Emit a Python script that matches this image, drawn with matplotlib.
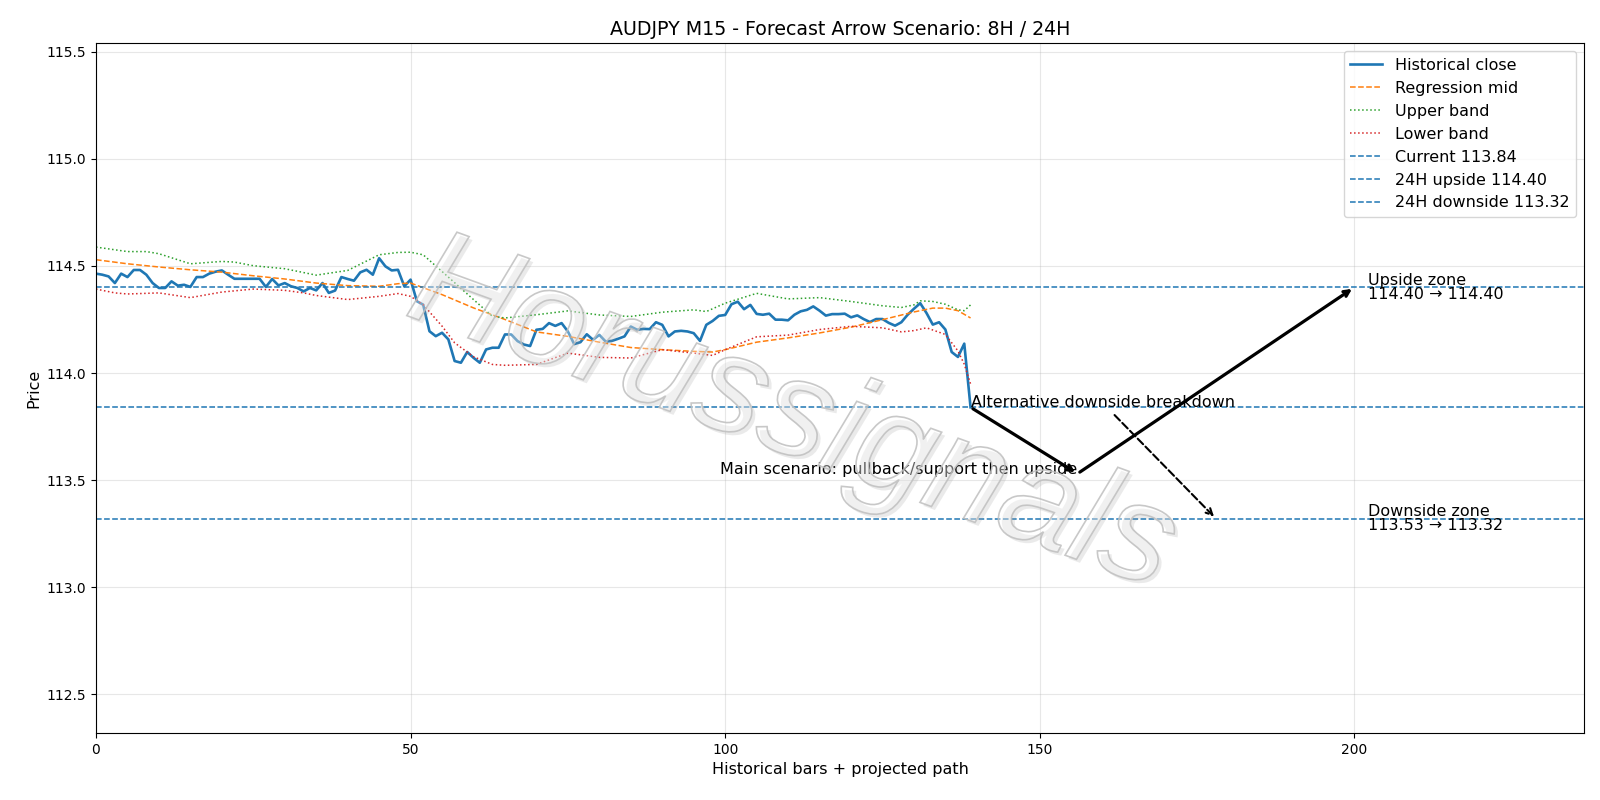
import numpy as np
import matplotlib
matplotlib.use("Agg")
import matplotlib.pyplot as plt
import matplotlib.patheffects as pe

# historique des clotures (barres M15)
close = [
    114.464, 114.459, 114.451, 114.420, 114.464, 114.448, 114.481, 114.481, 114.459, 114.420,
    114.397, 114.397, 114.428, 114.408, 114.412, 114.402, 114.448, 114.448, 114.464, 114.473,
    114.479, 114.459, 114.440, 114.440, 114.440, 114.440, 114.440, 114.402, 114.439, 114.409,
    114.420, 114.405, 114.397, 114.381, 114.397, 114.386, 114.420, 114.374, 114.385, 114.448,
    114.439, 114.431, 114.470, 114.482, 114.459, 114.536, 114.498, 114.479, 114.482, 114.405,
    114.436, 114.335, 114.319, 114.195, 114.172, 114.188, 114.157, 114.056, 114.048, 114.098,
    114.071, 114.048, 114.110, 114.118, 114.118, 114.180, 114.180, 114.149, 114.133, 114.126,
    114.202, 114.206, 114.233, 114.220, 114.233, 114.194, 114.135, 114.144, 114.181, 114.155,
    114.178, 114.147, 114.150, 114.160, 114.171, 114.217, 114.202, 114.206, 114.205, 114.237,
    114.225, 114.171, 114.194, 114.197, 114.194, 114.186, 114.150, 114.225, 114.243, 114.267,
    114.271, 114.321, 114.333, 114.298, 114.318, 114.276, 114.272, 114.277, 114.249, 114.249,
    114.246, 114.272, 114.288, 114.295, 114.311, 114.291, 114.268, 114.275, 114.275, 114.277,
    114.260, 114.269, 114.252, 114.238, 114.252, 114.252, 114.234, 114.221, 114.237, 114.272,
    114.300, 114.326, 114.280, 114.226, 114.237, 114.203, 114.098, 114.075, 114.137, 113.840,
]

# regression mid
mid_x = [0, 5, 10, 15, 20, 25, 30, 35, 40, 45, 48, 50, 55, 60, 65, 70, 75, 80, 85, 90,
         95, 98, 100, 105, 110, 115, 120, 125, 130, 133, 135, 137, 139]
mid_y = [114.529, 114.510, 114.495, 114.482, 114.471, 114.454, 114.439, 114.420, 114.408,
         114.405, 114.417, 114.420, 114.366, 114.304, 114.250, 114.192, 114.171, 114.144,
         114.119, 114.109, 114.101, 114.098, 114.109, 114.144, 114.164, 114.187, 114.214,
         114.249, 114.285, 114.303, 114.303, 114.291, 114.257]

# bande haute
up_x = [0, 5, 8, 10, 15, 20, 22, 25, 30, 35, 40, 45, 48, 50, 52, 55, 60, 63, 65, 70, 75,
        80, 85, 90, 95, 97, 100, 105, 110, 115, 120, 125, 128, 130, 131, 133, 135, 137,
        138, 139]
up_y = [114.588, 114.567, 114.567, 114.557, 114.510, 114.521, 114.518, 114.501, 114.487,
        114.457, 114.479, 114.552, 114.563, 114.564, 114.552, 114.474, 114.343, 114.265,
        114.257, 114.272, 114.290, 114.271, 114.264, 114.284, 114.295, 114.287, 114.326,
        114.372, 114.346, 114.352, 114.334, 114.314, 114.306, 114.318, 114.337, 114.334,
        114.321, 114.295, 114.291, 114.318]

# bande basse
low_x = [0, 3, 5, 10, 15, 20, 25, 30, 33, 35, 40, 45, 48, 50, 52, 55, 57, 60, 63, 65, 70,
         75, 80, 85, 90, 95, 98, 100, 105, 110, 115, 120, 125, 128, 130, 132, 135, 137,
         138, 139]
low_y = [114.392, 114.374, 114.369, 114.374, 114.352, 114.378, 114.392, 114.386, 114.374,
         114.362, 114.343, 114.358, 114.371, 114.358, 114.319, 114.219, 114.141, 114.076,
         114.040, 114.036, 114.040, 114.093, 114.073, 114.070, 114.109, 114.093, 114.082,
         114.109, 114.169, 114.177, 114.203, 114.218, 114.211, 114.192, 114.198, 114.211,
         114.180, 114.103, 114.041, 113.949]

current = 113.84
up_target = 114.40
down_target = 113.32
down_first = 113.53

# scenario principal : repli puis hausse
main_x = [139, 156, 200]
main_y = [113.84, 113.53, 114.40]
alt_end = (178, 113.32)

fs = 11.5  # taille du texte

fig, ax = plt.subplots(figsize=(16, 8), dpi=100)
fig.subplots_adjust(left=0.06, right=0.99, top=0.946, bottom=0.084)

x = np.arange(len(close))
ax.plot(x, close, color='#1f77b4', lw=1.9, label='Historical close')
ax.plot(mid_x, mid_y, color='#ff7f0e', ls='--', lw=1.1, label='Regression mid')
ax.plot(up_x, up_y, color='#2ca02c', ls=':', lw=1.1, label='Upper band')
ax.plot(low_x, low_y, color='#d62728', ls=':', lw=1.1, label='Lower band')
ax.axhline(current, color='#1f77b4', ls='--', lw=1.1, label=f'Current {current:.2f}')
ax.axhline(up_target, color='#1f77b4', ls='--', lw=1.1, label=f'24H upside {up_target:.2f}')
ax.axhline(down_target, color='#1f77b4', ls='--', lw=1.1, label=f'24H downside {down_target:.2f}')

# fleches
ax.annotate('', xy=(main_x[1], main_y[1]), xytext=(main_x[0], main_y[0]),
            arrowprops=dict(arrowstyle='->', color='black', lw=2.3))
ax.annotate('', xy=(main_x[2], main_y[2]), xytext=(main_x[1], main_y[1]),
            arrowprops=dict(arrowstyle='->', color='black', lw=2.3))
ax.text(main_x[1], main_y[1], 'Main scenario: pullback/support then upside',
        ha='right', va='baseline', fontsize=fs)
ax.annotate('Alternative downside breakdown', xy=alt_end, xytext=(main_x[0], current),
            fontsize=fs, ha='left', va='baseline',
            arrowprops=dict(arrowstyle='->', color='black', lw=1.5, ls='--'))

ax.text(202.2, up_target, f'Upside zone\n{up_target:.2f} \u2192 {up_target:.2f}',
        va='center', fontsize=fs, linespacing=0.95)
ax.text(202.2, down_target, f'Downside zone\n{down_first:.2f} \u2192 {down_target:.2f}',
        va='center', fontsize=fs, linespacing=0.95)

# filigrane par-dessus, translucide
ax.text(0.468, 0.457, 'Horussignals', transform=ax.transAxes, fontsize=100,
        family=['Liberation Sans', 'DejaVu Sans'], style='italic', rotation=-20,
        ha='center', va='center', zorder=6,
        path_effects=[pe.SimplePatchShadow(offset=(2.5, -2.5), shadow_rgbFace='#9a9a9a', alpha=0.2),
                      pe.PathPatchEffect(edgecolor=(0.75, 0.75, 0.75, 0.85),
                                         facecolor=(1, 1, 1, 0.32), linewidth=1.2)])

ax.set_xlim(0, 236.5)
ax.set_ylim(112.32, 115.54)
ax.set_yticks(np.arange(112.5, 115.51, 0.5))
ax.set_xticks([0, 50, 100, 150, 200])
ax.grid(True, alpha=0.3)
ax.set_title('AUDJPY M15 - Forecast Arrow Scenario: 8H / 24H', fontsize=13.7)
ax.set_xlabel('Historical bars + projected path', fontsize=fs)
ax.set_ylabel('Price', fontsize=fs)
ax.legend(loc='upper right', fontsize=fs)

fig.savefig('out.png', dpi=100)
